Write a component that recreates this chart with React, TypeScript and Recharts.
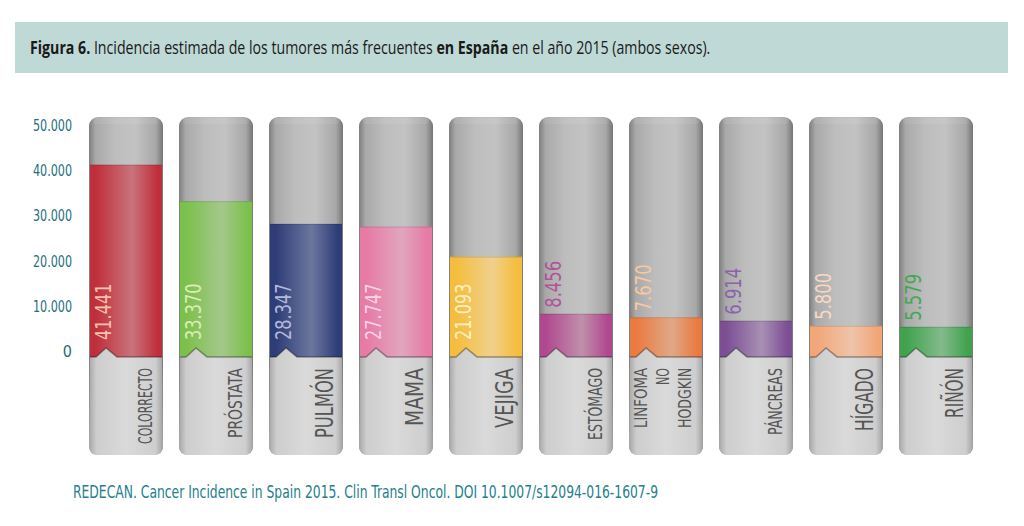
import { useLayoutEffect, useRef, useState } from "react";
import { Bar, BarChart, XAxis, YAxis } from "recharts";

const categories = [
  "COLORRECTO",
  "PRÓSTATA",
  "PULMÓN",
  "MAMA",
  "VEJIGA",
  "ESTÓMAGO",
  "LINFOMA NO HODGKIN",
  "PÁNCREAS",
  "HÍGADO",
  "RIÑÓN",
];
const incidence = [41441, 33370, 28347, 27747, 21093, 8456, 7670, 6914, 5800, 5579];
const valueLabels = ["41.441", "33.370", "28.347", "27.747", "21.093", "8.456", "7.670", "6.914", "5.800", "5.579"];
const yTicks = [0, 10000, 20000, 30000, 40000, 50000];
const yTickLabels = ["0", "10.000", "20.000", "30.000", "40.000", "50.000"];

// bar colours: [edge, centre, label]
const palette = [
  ["#bf2f3b", "#c9737c", "#f4c0aa"],
  ["#7cc04c", "#a4c88c", "#dcecb4"],
  ["#2e3d78", "#6c779e", "#b4b8da"],
  ["#e87aa6", "#e0a6bc", "#f8d4e2"],
  ["#f5bd3c", "#f0d08c", "#fff0c4"],
  ["#b04890", "#c090aa", "#b25299"],
  ["#ea7a40", "#e0a888", "#f8c8a0"],
  ["#7c4e94", "#a890b4", "#8c62aa"],
  ["#f2a678", "#eec4aa", "#f8d8c4"],
  ["#40a24e", "#84ba8c", "#42a852"],
];

// rotated category label sizes: font size, text length
const catStyle: Record<string, { fs: number; len: number }> = {
  COLORRECTO: { fs: 19, len: 76 },
  PRÓSTATA: { fs: 19, len: 70 },
  PULMÓN: { fs: 24, len: 70 },
  MAMA: { fs: 24, len: 58 },
  VEJIGA: { fs: 25, len: 60 },
  ESTÓMAGO: { fs: 19, len: 72 },
  LINFOMA: { fs: 18, len: 60 },
  NO: { fs: 18, len: 17 },
  HODGKIN: { fs: 18, len: 60 },
  PÁNCREAS: { fs: 19, len: 67 },
  HÍGADO: { fs: 24, len: 63 },
  RIÑÓN: { fs: 24, len: 50 },
};

const TUBE_TOP = 52000;
const TUBE_BOTTOM = -22788;
const BASE = -1100;

const chartData = categories.map((name, i) => ({
  name,
  tube: [TUBE_BOTTOM, TUBE_TOP],
  value: [BASE, incidence[i]],
  low: [TUBE_BOTTOM, BASE],
  label: valueLabels[i],
}));

const LABEL_FONT = "'Liberation Sans Narrow', 'DejaVu Sans Condensed', 'DejaVu Sans', sans-serif";
const TEAL = "#1e6e7e";

function TubeShape(props: any) {
  const { x, y, width, height, index } = props;
  const id = `tube-${index}`;
  return (
    <g>
      <defs>
        <linearGradient id={id} x1="0" y1="0" x2="1" y2="0">
          <stop offset="0%" stopColor="#7e7e7e" />
          <stop offset="9%" stopColor="#a9a9a9" />
          <stop offset="35%" stopColor="#bdbdbd" />
          <stop offset="62%" stopColor="#c3c3c3" />
          <stop offset="90%" stopColor="#a8a8a8" />
          <stop offset="100%" stopColor="#767676" />
        </linearGradient>
      </defs>
      <rect x={x} y={y} width={width} height={height} rx={9} ry={9} fill={`url(#${id})`} />
      <rect x={x + 4} y={y + 1} width={width - 8} height={6} rx={3} fill="#ffffff" opacity={0.08} />
    </g>
  );
}

function FillShape(props: any) {
  const { x, y, width, height, index } = props;
  const [edge, centre, labelColor] = palette[index];
  const id = `fill-${index}`;
  const bottom = y + height;
  const big = incidence[index] > 15000;
  const ly = big ? bottom - 17 : y - 6;
  const lx = x + 15;
  const text = valueLabels[index];
  return (
    <g>
      <defs>
        <linearGradient id={id} x1="0" y1="0" x2="1" y2="0">
          <stop offset="0%" stopColor={edge} />
          <stop offset="8%" stopColor={edge} />
          <stop offset="58%" stopColor={centre} />
          <stop offset="94%" stopColor={edge} />
          <stop offset="100%" stopColor={edge} />
        </linearGradient>
      </defs>
      <rect x={x + 1} y={y} width={width - 2} height={height} fill={`url(#${id})`} />
      <line x1={x + 1} x2={x + width - 1} y1={y + 0.5} y2={y + 0.5} stroke="#000" strokeOpacity={0.12} />
      <text
        x={lx}
        y={ly}
        transform={`rotate(-90 ${lx} ${ly})`}
        textAnchor="start"
        dominantBaseline="central"
        fontFamily={LABEL_FONT}
        fontSize={22}
        textLength={text.length * 9.4}
        lengthAdjust="spacingAndGlyphs"
        fill={labelColor}
      >
        {text}
      </text>
    </g>
  );
}

function LowShape(props: any) {
  const { x, y, width, height, index } = props;
  const id = `low-${index}`;
  const b = y + height;
  const r = 9;
  const d = `M${x + 1},${y} L${x + 7},${y} L${x + 17},${y - 9} L${x + 28},${y} L${x + width - 1},${y} L${x + width},${b - r} Q${x + width},${b} ${x + width - r},${b} L${x + r},${b} Q${x},${b} ${x},${b - r} Z`;
  const words = categories[index].split(" ");
  const offsets = words.length === 3 ? [12, 34, 56] : [56];
  const top = y + 11;
  return (
    <g>
      <defs>
        <linearGradient id={id} x1="0" y1="0" x2="1" y2="0">
          <stop offset="0%" stopColor="#a6a6a6" />
          <stop offset="10%" stopColor="#cdcdcd" />
          <stop offset="50%" stopColor="#dadada" />
          <stop offset="90%" stopColor="#cecece" />
          <stop offset="100%" stopColor="#a2a2a2" />
        </linearGradient>
      </defs>
      <path d={d} fill={`url(#${id})`} />
      <polyline
        points={`${x + 1},${y} ${x + 7},${y} ${x + 17},${y - 9} ${x + 28},${y} ${x + width - 1},${y}`}
        fill="none"
        stroke="#000"
        strokeOpacity={0.35}
        strokeWidth={1.6}
      />
      {words.map((w, k) => {
        const cx = x + offsets[k];
        const st = catStyle[w];
        return (
          <text
            key={w}
            x={cx}
            y={top}
            transform={`rotate(-90 ${cx} ${top})`}
            textAnchor="end"
            dominantBaseline="central"
            fontFamily={LABEL_FONT}
            fontSize={st.fs}
            textLength={st.len}
            lengthAdjust="spacingAndGlyphs"
            fill="#555555"
          >
            {w}
          </text>
        );
      })}
    </g>
  );
}

function YTick(props: any) {
  const { x, y, payload } = props;
  const label = yTickLabels[yTicks.indexOf(payload.value)];
  return (
    <text
      x={x}
      y={y}
      dy={5}
      textAnchor="end"
      fontFamily={LABEL_FONT}
      fontSize={16}
      fill={TEAL}
      {...(label.length > 1 ? { textLength: 39, lengthAdjust: "spacingAndGlyphs" } : {})}
    >
      {label}
    </text>
  );
}

// title squeezed horizontally to the width of the condensed original
function Title() {
  const ref = useRef<SVGTextElement>(null);
  const [sx, setSx] = useState(0.82);
  useLayoutEffect(() => {
    if (ref.current) {
      const w = ref.current.getComputedTextLength();
      if (w > 0) setSx(680 / w);
    }
  }, []);
  return (
    <g transform={`translate(30 54) scale(${sx} 1)`}>
      <text ref={ref} x={0} y={0} fontFamily="'Open Sans', sans-serif" fontSize={18} fill="#1a1a1a">
        <tspan fontWeight={700}>Figura 6.</tspan>
        <tspan> Incidencia estimada de los tumores más frecuentes </tspan>
        <tspan fontWeight={700}>en España</tspan>
        <tspan> en el año 2015 (ambos sexos).</tspan>
      </text>
    </g>
  );
}

export default function App() {
  return (
    <div style={{ position: "relative", width: 1024, height: 526, background: "#fff" }}>
      <style>{"body{margin:0}"}</style>
      <svg width={1024} height={526} style={{ position: "absolute", left: 0, top: 0 }}>
        <rect x={15} y={22} width={993} height={51} fill="#bfd9d6" />
        <Title />
        <text
          x={73}
          y={498}
          fontFamily={LABEL_FONT}
          fontSize={17}
          fill="#23808c"
          textLength={585}
          lengthAdjust="spacingAndGlyphs"
        >
          REDECAN. Cancer Incidence in Spain 2015. Clin Transl Oncol. DOI 10.1007/s12094-016-1607-9
        </text>
      </svg>
      <div style={{ position: "absolute", left: 0, top: 0 }}>
        <BarChart
          width={1024}
          height={526}
          data={chartData}
          margin={{ top: 117, right: 43, bottom: 71, left: 0 }}
        >
          <XAxis
            xAxisId="bg"
            dataKey="name"
            height={0}
            tick={false}
            tickLine={false}
            axisLine={{ stroke: "#0b6f6e", strokeWidth: 5 }}
          />
          <XAxis xAxisId="fill" dataKey="name" hide />
          <XAxis xAxisId="low" dataKey="name" hide />
          <YAxis
            width={81}
            domain={[TUBE_BOTTOM, TUBE_TOP]}
            ticks={yTicks}
            interval={0}
            tickSize={0}
            tickMargin={9}
            axisLine={false}
            tickLine={false}
            tick={<YTick />}
            allowDataOverflow
          />
          <Bar xAxisId="bg" dataKey="tube" barSize={74} shape={<TubeShape />} isAnimationActive={false} />
          <Bar xAxisId="fill" dataKey="value" barSize={74} shape={<FillShape />} isAnimationActive={false} />
          <Bar xAxisId="low" dataKey="low" barSize={74} shape={<LowShape />} isAnimationActive={false} />
        </BarChart>
      </div>
    </div>
  );
}
